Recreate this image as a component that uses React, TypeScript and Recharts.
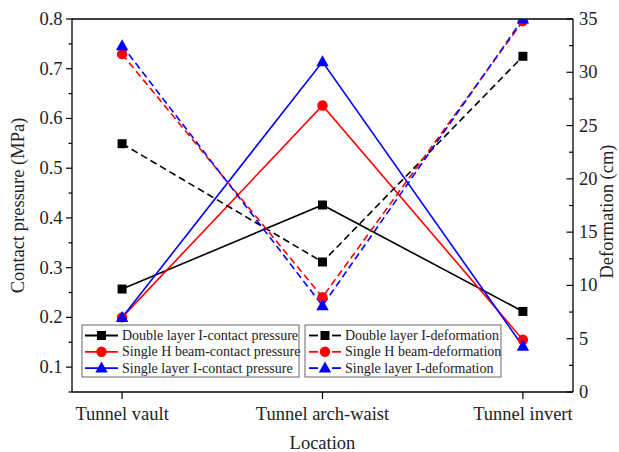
import React from 'react';
import { ComposedChart, Line, XAxis, YAxis, ReferenceLine, Legend } from 'recharts';

// Measurement locations along the tunnel section
const categories = ['Tunnel vault', 'Tunnel arch-waist', 'Tunnel invert'];
const positions = [1, 2, 3];

// Contact pressure (MPa)
const doubleIPressure = [0.257, 0.426, 0.212];
const singleHPressure = [0.2, 0.626, 0.155];
const singleIPressure = [0.2, 0.714, 0.142];

// Deformation (cm)
const doubleIDeformation = [23.3, 12.2, 31.5];
const singleHDeformation = [31.7, 8.9, 34.8];
const singleIDeformation = [32.5, 8.1, 35.0];

// Axis ticks (majors are labelled, minors are bare)
const leftTicks = [0.05, 0.1, 0.15, 0.2, 0.25, 0.3, 0.35, 0.4, 0.45, 0.5, 0.55, 0.6, 0.65, 0.7, 0.75, 0.8];
const rightTicks = [0, 2.5, 5, 7.5, 10, 12.5, 15, 17.5, 20, 22.5, 25, 27.5, 30, 32.5, 35];

const FONT = "'Liberation Serif', 'Times New Roman', serif";
const AXIS_FONT_SIZE = 18.5;

type Shape = 'square' | 'circle' | 'triangle';
type SeriesDef = {
  key: string;
  name: string;
  color: string;
  shape: Shape;
  axis: 'left' | 'right';
  dashed: boolean;
  values: number[];
};

const series: SeriesDef[] = [
  { key: 'dIP', name: 'Double layer I-contact pressure', color: '#000000', shape: 'square', axis: 'left', dashed: false, values: doubleIPressure },
  { key: 'sHP', name: 'Single H beam-contact pressure', color: '#ff0000', shape: 'circle', axis: 'left', dashed: false, values: singleHPressure },
  { key: 'sIP', name: 'Single layer I-contact pressure', color: '#0000ff', shape: 'triangle', axis: 'left', dashed: false, values: singleIPressure },
  { key: 'dID', name: 'Double layer I-deformation', color: '#000000', shape: 'square', axis: 'right', dashed: true, values: doubleIDeformation },
  { key: 'sHD', name: 'Single H beam-deformation', color: '#ff0000', shape: 'circle', axis: 'right', dashed: true, values: singleHDeformation },
  { key: 'sID', name: 'Single layer I-deformation', color: '#0000ff', shape: 'triangle', axis: 'right', dashed: true, values: singleIDeformation },
];

const data = positions.map((pos, i) => {
  const row: Record<string, number | string> = { pos, name: categories[i] };
  series.forEach((s) => {
    row[s.key] = s.values[i];
  });
  return row;
});

function Marker({ cx, cy, shape, color }: { cx: number; cy: number; shape: Shape; color: string }) {
  if (shape === 'square') {
    return <rect x={cx - 4.5} y={cy - 4.5} width={9} height={9} fill={color} />;
  }
  if (shape === 'circle') {
    return <circle cx={cx} cy={cy} r={5.2} fill={color} />;
  }
  return <polygon points={`${cx},${cy - 6.5} ${cx - 6.2},${cy + 4.5} ${cx + 6.2},${cy + 4.5}`} fill={color} />;
}

const isMajor = (v: number, step: number) => Math.abs(v / step - Math.round(v / step)) < 1e-6;

function LeftTick(props: any) {
  const { x, y, payload } = props;
  const v = payload.value as number;
  const major = isMajor(v, 0.1) && v >= 0.1 - 1e-9;
  return (
    <g>
      <line x1={x} y1={y} x2={x - (major ? 6 : 3.5)} y2={y} stroke="#000" strokeWidth={1.2} />
      {major && (
        <text x={x - 9.5} y={y} textAnchor="end" dominantBaseline="central" fontFamily={FONT} fontSize={AXIS_FONT_SIZE} fill="#222">
          {v.toFixed(1)}
        </text>
      )}
    </g>
  );
}

function RightTick(props: any) {
  const { x, y, payload } = props;
  const v = payload.value as number;
  const major = isMajor(v, 5);
  return (
    <g>
      <line x1={x} y1={y} x2={x - (major ? 6.5 : 4)} y2={y} stroke="#000" strokeWidth={1.2} />
      {major && (
        <text x={x + 6} y={y} textAnchor="start" dominantBaseline="central" fontFamily={FONT} fontSize={AXIS_FONT_SIZE} fill="#222">
          {v}
        </text>
      )}
    </g>
  );
}

function BottomTick(props: any) {
  const { x, y, payload } = props;
  const idx = positions.indexOf(payload.value);
  return (
    <g>
      <line x1={x} y1={y} x2={x} y2={y + 7} stroke="#000" strokeWidth={1.2} />
      <text x={x} y={y + 28} textAnchor="middle" fontFamily={FONT} fontSize={AXIS_FONT_SIZE} fill="#222">
        {categories[idx]}
      </text>
    </g>
  );
}

function AxisTitle({ viewBox, text, side }: { viewBox?: any; text: string; side: 'left' | 'right' | 'bottom' }) {
  if (!viewBox) return null;
  const { x, y, width, height } = viewBox;
  if (side === 'bottom') {
    return (
      <text x={x + width / 2} y={y + 57} textAnchor="middle" fontFamily={FONT} fontSize={AXIS_FONT_SIZE} fill="#222">
        {text}
      </text>
    );
  }
  const cx = side === 'left' ? x + 18 : x + width - 12;
  const cy = y + height / 2 + (side === 'right' ? 6 : 0);
  return (
    <text
      x={cx}
      y={cy}
      transform={`rotate(-90 ${cx} ${cy})`}
      textAnchor="middle"
      dominantBaseline="central"
      fontFamily={FONT}
      fontSize={AXIS_FONT_SIZE}
      fill="#222"
    >
      {text}
    </text>
  );
}

function LegendBoxes() {
  const boxes = [
    { x: 82, y: 325, w: 217, h: 52, items: series.slice(0, 3) },
    { x: 305, y: 325, w: 196, h: 52, items: series.slice(3) },
  ];
  return (
    <svg width={619} height={452} style={{ position: 'absolute', left: 0, top: 0 }}>
      {boxes.map((b, bi) => (
        <g key={bi}>
          <rect x={b.x} y={b.y} width={b.w} height={b.h} fill="#fff" stroke="#666" strokeWidth={1} />
          {b.items.map((s, i) => {
            const ry = b.y + 10.5 + i * 16.3;
            const x0 = b.x + (s.dashed ? 4 : 3);
            const x1 = b.x + 36;
            const mx = (x0 + x1) / 2;
            return (
              <g key={s.key}>
                {s.dashed ? (
                  <>
                    <line x1={x0} y1={ry} x2={mx - 7} y2={ry} stroke={s.color} strokeWidth={1.8} />
                    <line x1={mx + 7} y1={ry} x2={x1} y2={ry} stroke={s.color} strokeWidth={1.8} />
                  </>
                ) : (
                  <line x1={x0} y1={ry} x2={x1} y2={ry} stroke={s.color} strokeWidth={1.8} />
                )}
                <Marker cx={mx} cy={ry} shape={s.shape} color={s.color} />
                <text x={b.x + 40} y={ry} dominantBaseline="central" fontFamily={FONT} fontSize={14} fill="#222">
                  {s.name}
                </text>
              </g>
            );
          })}
        </g>
      ))}
    </svg>
  );
}

export default function App() {
  return (
    <div style={{ position: 'absolute', left: 0, top: 0, width: 619, height: 452, background: '#fff' }}>
      <ComposedChart width={619} height={452} data={data} margin={{ top: 19, right: 0, bottom: 0, left: 0 }}>
        <XAxis
          dataKey="pos"
          type="number"
          domain={[0.75, 3.25]}
          ticks={positions}
          allowDataOverflow
          height={60}
          axisLine={{ stroke: '#000', strokeWidth: 1.3 }}
          tickLine={false}
          tickSize={0}
          tickMargin={0}
          tick={<BottomTick />}
          interval={0}
          label={(p: any) => <AxisTitle viewBox={p.viewBox} text="Location" side="bottom" />}
        />
        <YAxis
          yAxisId="left"
          orientation="left"
          type="number"
          domain={[0.05, 0.8]}
          ticks={leftTicks}
          allowDataOverflow
          width={72}
          axisLine={{ stroke: '#000', strokeWidth: 1.3 }}
          tickLine={false}
          tickSize={0}
          tickMargin={0}
          tick={<LeftTick />}
          interval={0}
          label={(p: any) => <AxisTitle viewBox={p.viewBox} text="Contact pressure (MPa)" side="left" />}
        />
        <YAxis
          yAxisId="right"
          orientation="right"
          type="number"
          domain={[0, 35]}
          ticks={rightTicks}
          allowDataOverflow
          width={46}
          axisLine={{ stroke: '#000', strokeWidth: 1.3 }}
          tickLine={false}
          tickSize={0}
          tickMargin={0}
          tick={<RightTick />}
          interval={0}
          label={(p: any) => <AxisTitle viewBox={p.viewBox} text="Deformation (cm)" side="right" />}
        />
        <ReferenceLine yAxisId="left" y={0.8} stroke="#000" strokeWidth={1.3} />
        {series.map((s) => (
          <Line
            key={s.key}
            yAxisId={s.axis}
            dataKey={s.key}
            name={s.name}
            type="linear"
            stroke={s.color}
            strokeWidth={1.6}
            strokeDasharray={s.dashed ? '7 4' : undefined}
            isAnimationActive={false}
            dot={(p: any) => <Marker key={`${s.key}-${p.index}`} cx={p.cx} cy={p.cy} shape={s.shape} color={s.color} />}
            activeDot={false}
          />
        ))}
        <Legend
          layout="horizontal"
          verticalAlign="middle"
          align="center"
          wrapperStyle={{ left: 0, top: 0, width: 619, height: 452, pointerEvents: 'none' }}
          content={() => <LegendBoxes />}
        />
      </ComposedChart>
    </div>
  );
}
